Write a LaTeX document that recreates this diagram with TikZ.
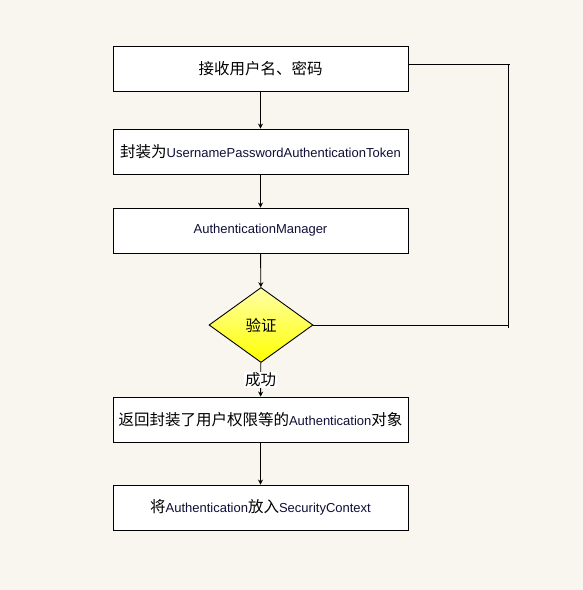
\documentclass[tikz,border=0pt]{standalone}
\usepackage{fontspec}
\setmainfont{Liberation Sans}
\newfontfamily\cjk{Noto Sans CJK SC}
\usetikzlibrary{shapes.geometric,arrows.meta}
\definecolor{bgc}{RGB}{249,246,240}
\definecolor{latc}{RGB}{15,15,55}
\newcommand{\zh}[1]{{\cjk\fontsize{15.5}{17}\selectfont #1}}
\newcommand{\en}[1]{{\color{latc}\fontsize{13}{15}\selectfont #1}}
\begin{document}
\begin{tikzpicture}[x=1pt,y=-1pt,
  flowbox/.style={draw=black,line width=0.9pt,fill=white,minimum width=295pt,minimum height=45pt,inner sep=0pt},
  decide/.style={diamond,draw=black,line width=0.9pt,top color=yellow!35!white,bottom color=yellow,minimum width=104pt,minimum height=75pt,inner sep=0pt,aspect=1.387},
  arr/.style={line width=0.9pt,-{Stealth[length=5pt,width=5pt]}},
  ln/.style={line width=0.9pt}]
\fill[bgc] (0,0) rectangle (583,590);
\useasboundingbox (0,0) rectangle (583,590);
\node[flowbox] (b1) at (260.5,68.5) {\zh{接收用户名、密码}};
\node[flowbox] (b2) at (260.5,151.5) {\zh{封装为}\en{UsernamePasswordAuthenticationToken}};
\node[flowbox] (b3) at (260.5,230.5) {\en{AuthenticationManager}};
\node[decide] (d) at (261,325) {\zh{验证}};
\node[flowbox] (b4) at (260.5,419.5) {\zh{返回封装了用户权限等的}\en{Authentication}\zh{对象}};
\node[flowbox] (b5) at (260.5,507.5) {\zh{将}\en{Authentication}\zh{放入}\en{SecurityContext}};
\coordinate (c1) at (508,64);
\coordinate (c2) at (508,325);
\coordinate (t1) at (510,64);
\coordinate (t2) at (508,328);
\draw[arr] (b1) -- (b2);
\draw[arr] (b2) -- (b3);
\draw[arr] (b3) -- (d);
\draw[arr] (d) -- node[fill=white,inner sep=1pt,pos=0.5] {\zh{成功}} (b4);
\draw[arr] (b4) -- (b5);
\draw[ln] (b1.east |- c1) -- (t1);
\draw[ln] (c1) -- (t2);
\draw[ln] (d.east) -- (c2);
\end{tikzpicture}
\end{document}
